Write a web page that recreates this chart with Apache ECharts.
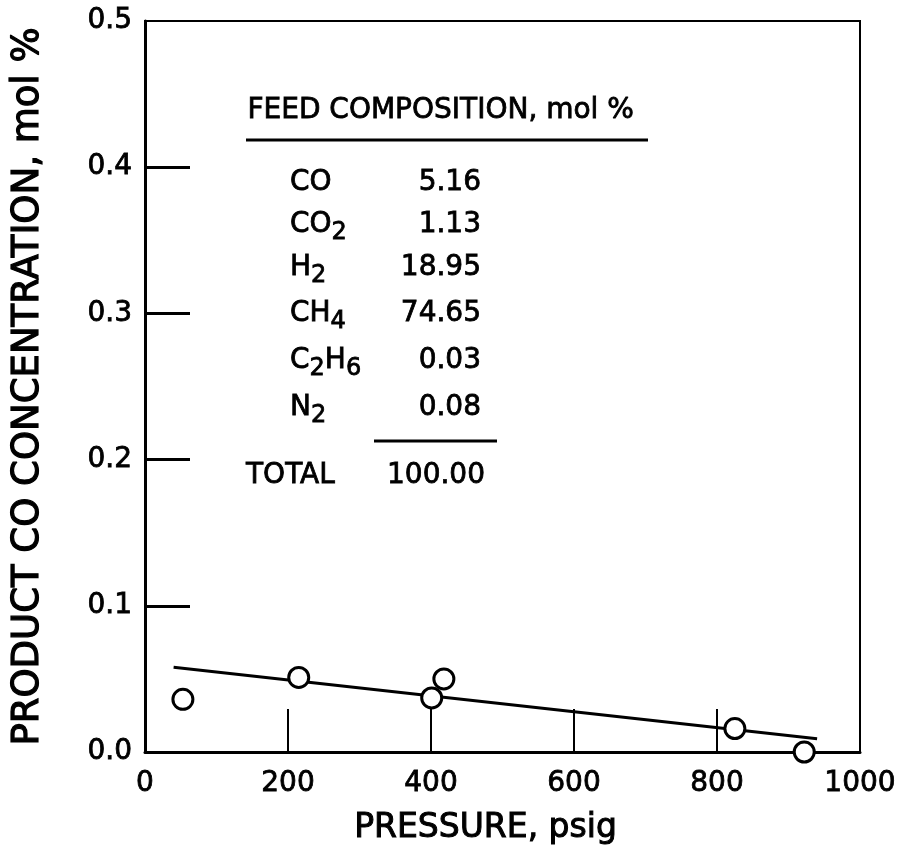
<!DOCTYPE html>
<html>
<head>
<meta charset="utf-8">
<script src="https://cdn.jsdelivr.net/npm/echarts@6/dist/echarts.min.js"></script>
<style>html,body{margin:0;padding:0;background:#fff;}#c{width:914px;height:863px;}</style>
</head>
<body>
<div id="c"></div>
<script>
// ---- data ----
var pressurePsig = [53, 215, 401, 418, 825, 922];
var productCO = [0.036, 0.051, 0.037, 0.050, 0.016, 0.000];
var fitPressure = [40, 940];
var fitCO = [0.058, 0.009];
var xTickLabels = ['0', '200', '400', '600', '800', '1000'];
var yTickLabels = ['0.0', '0.1', '0.2', '0.3', '0.4', '0.5'];
var xTickMarks = [200, 400, 600, 800];
var yTickMarks = [0.1, 0.2, 0.3, 0.4];
var feedComponents = ['CO', 'CO{s|2}', 'H{s|2}', 'CH{s|4}', 'C{s|2}H{s|6}', 'N{s|2}'];
var feedValues = ['5.16', '1.13', '18.95', '74.65', '0.03', '0.08'];
var feedTotalLabel = 'TOTAL';
var feedTotalValue = '100.00';
var feedTitle = 'FEED COMPOSITION, mol %';

var FONT = 'DejaVu Sans';
var chart = echarts.init(document.getElementById('c'), null, {renderer: 'canvas'});

function tstyle(extra) {
  var s = {font: '28px "DejaVu Sans"', fill: '#000', stroke: '#000', lineWidth: 0.8};
  for (var k in extra) s[k] = extra[k];
  return s;
}
var graphic = [];
graphic.push({type: 'text', left: 247, top: 96, style: tstyle({text: feedTitle})});
graphic.push({type: 'line', shape: {x1: 246, y1: 140, x2: 648, y2: 140}, style: {stroke: '#000', lineWidth: 3}});
var rowY = [183, 225, 268, 314, 361, 408];
var rich = {
  m: {fontFamily: FONT, fontSize: 28, lineHeight: 40, fill: '#000', stroke: '#000', lineWidth: 0.8},
  s: {fontFamily: FONT, fontSize: 24, lineHeight: 22, verticalAlign: 'bottom', fill: '#000', stroke: '#000', lineWidth: 0.8}
};
feedComponents.forEach(function (name, i) {
  var txt = name.replace(/(^|\})([^{}]+?)(?=\{|$)/g, function (m0, p, t) { return p + '{m|' + t + '}'; });
  graphic.push({type: 'text', x: 290, y: rowY[i] - 20, style: {text: txt, rich: rich, fill: '#000'}});
  graphic.push({type: 'text', x: 481, y: rowY[i], style: tstyle({text: feedValues[i], align: 'right', verticalAlign: 'middle'})});
});
graphic.push({type: 'line', shape: {x1: 374, y1: 441, x2: 497, y2: 441}, style: {stroke: '#000', lineWidth: 3}});
graphic.push({type: 'text', x: 246, y: 476, style: tstyle({text: feedTotalLabel, align: 'left', verticalAlign: 'middle'})});
graphic.push({type: 'text', x: 485, y: 476, style: tstyle({text: feedTotalValue, align: 'right', verticalAlign: 'middle'})});

var option = {
  backgroundColor: '#fff',
  animation: false,
  grid: {left: 145, right: 54, top: 21, bottom: 111, show: true, borderColor: '#000', borderWidth: 2, backgroundColor: 'transparent'},
  xAxis: {
    type: 'value', min: 0, max: 1000, interval: 200,
    name: 'PRESSURE, psig', nameLocation: 'middle', nameGap: 60,
    nameTextStyle: {fontFamily: FONT, fontSize: 33, color: '#000', padding: [0, 34, 0, 0], textBorderColor: '#000', textBorderWidth: 1},
    axisLine: {show: true, lineStyle: {color: '#000', width: 3}},
    axisTick: {show: true, inside: true, length: 43, customValues: xTickMarks, lineStyle: {color: '#000', width: 2}},
    splitLine: {show: false},
    axisLabel: {fontFamily: FONT, fontSize: 28, color: '#000', margin: 18, textBorderColor: '#000', textBorderWidth: 0.8,
      formatter: function (v) { return xTickLabels[Math.round(v / 200)]; }}
  },
  yAxis: {
    type: 'value', min: 0, max: 0.5, interval: 0.1,
    name: 'PRODUCT CO CONCENTRATION, mol %', nameLocation: 'middle', nameGap: 98,
    nameTextStyle: {fontFamily: FONT, fontSize: 37, color: '#000', textBorderColor: '#000', textBorderWidth: 1.2},
    axisLine: {show: true, lineStyle: {color: '#000', width: 3}},
    axisTick: {show: true, inside: true, length: 45, customValues: yTickMarks, lineStyle: {color: '#000', width: 3}},
    splitLine: {show: false},
    axisLabel: {fontFamily: FONT, fontSize: 28, color: '#000', margin: 13, textBorderColor: '#000', textBorderWidth: 0.8,
      formatter: function (v) { return yTickLabels[Math.round(v * 10)]; }}
  },
  series: [
    {
      type: 'line', data: fitPressure.map(function (p, i) { return [p, fitCO[i]]; }),
      showSymbol: false, symbol: 'none', lineStyle: {color: '#000', width: 3}, z: 2, silent: true
    },
    {
      type: 'scatter', data: pressurePsig.map(function (p, i) { return [p, productCO[i]]; }),
      symbol: 'circle', symbolSize: 20,
      itemStyle: {color: '#fff', borderColor: '#000', borderWidth: 3, opacity: 1}, z: 3
    }
  ],
  graphic: graphic
};
chart.setOption(option);
</script>
</body>
</html>
